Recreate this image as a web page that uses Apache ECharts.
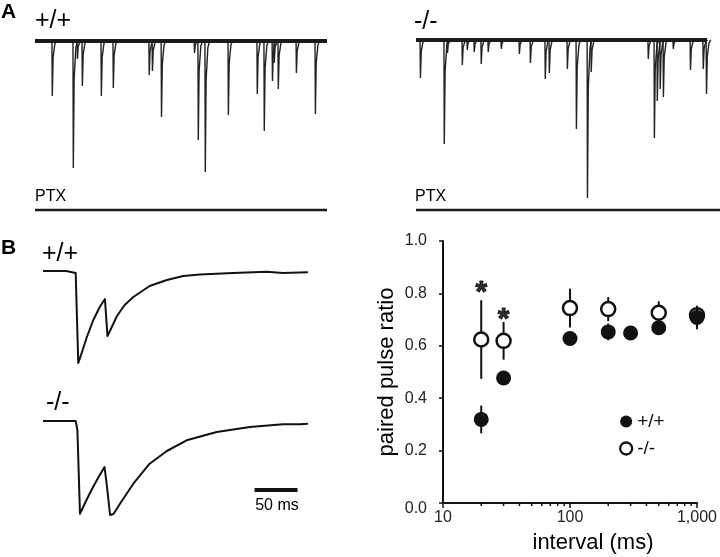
<!DOCTYPE html>
<html>
<head>
<meta charset="utf-8">
<script src="https://cdn.jsdelivr.net/npm/echarts@6/dist/echarts.min.js"></script>
<style>
html,body{margin:0;padding:0;background:#fff;}
#c{width:720px;height:557px;}
</style>
</head>
<body>
<div id="c"></div>
<script>
// ---------- DATA ----------
// Panel A: spontaneous IPSC events [time (s), amplitude (a.u., downward)]
const wtEvents = [[0.58,55],[1.30,127],[1.44,18],[1.61,45],[2.26,55],[2.67,47],[3.90,34],[4.01,30],[4.32,76],[5.45,12],[5.58,99],[5.82,131],[6.61,74],[7.60,53],[7.84,90],[8.12,40],[8.18,22],[8.32,48],[8.94,32],[9.59,73]];
const koEvents = [[0.14,38],[0.96,104],[1.07,13],[1.58,25],[1.75,10],[1.99,12],[2.23,24],[2.47,12],[2.92,9],[3.54,14],[3.92,23],[4.43,39],[4.57,33],[5.19,29],[5.50,89],[5.88,158],[6.01,32],[7.97,19],[8.18,98],[8.28,61],[8.38,49],[8.49,57],[8.83,9],[9.42,30],[9.86,29],[9.97,54]];
const recordDuration = 10;      // s
const ptxDurationWT = 10;       // s
const ptxDurationKO = 10.45;    // s

// Panel B left: paired-pulse traces [ms, a.u.]
const ppTimeWT = [0,27,29,38,40,41,45,51,58.5,66,72,75,80,86,95,105,124,144,163,182.5,221,260,279,308];
const ppValWT  = [0,0,-2,-2,-1,-92,-82,-66,-49,-36,-28,-65,-56,-45,-34,-26,-15,-9,-5,-3.6,-2,-0.7,-2,-1.3];
const ppTimeKO = [0,38,40,43,50,57,64,71.5,74,78,82,89.5,105,124,144,167,202,240.7,279,299,308];
const ppValKO  = [0,0,-9,-92.7,-80,-68,-57,-46,-62.7,-94,-93,-82.7,-62.7,-42.7,-30,-19.3,-11,-6,-3.3,-3.3,-2.7];
const scaleBarMs = 50;

// Panel B right: paired pulse ratio
const intervalsWT = [20,30,100,200,300,500,1000];
const pprWT = [0.319,0.477,0.628,0.653,0.649,0.669,0.708];
const semWT = [0.053,0.022,0.015,0.032,0.015,0.02,0.045];
const intervalsKO = [20,30,100,200,500,1000];
const pprKO = [0.624,0.619,0.744,0.740,0.726,0.717];
const semKO = [0.15,0.072,0.074,0.046,0.044,0.03];
const significant = [[20,0.832],[30,0.73]];
const minorTickValues = [20,30,40,50,60,70,80,90,200,300,400,500,600,700,800,900];

// ---------- BUILD ----------
const FONT = "'Liberation Sans', Arial, Helvetica, sans-serif";
const chart = echarts.init(document.getElementById('c'), null, {renderer:'canvas'});

function hiddenAxis(gridIndex, min, max){
  return {type:'value', gridIndex, min, max, show:false};
}
function eventRender(params, api){
  const t = api.value(0), a = api.value(1);
  const pts = [[t,0],[t+0.012,-a],[t+0.04,-a*0.3],[t+0.1,-a*0.05],[t+0.16,0]].map(p=>api.coord(p));
  return {type:'polyline', shape:{points:pts}, style:{stroke:'#222', lineWidth:1.4, fill:null}};
}
function errRender(params, api){
  const x = api.value(0);
  const p1 = api.coord([x, api.value(1)]), p2 = api.coord([x, api.value(2)]);
  return {type:'line', shape:{x1:p1[0],y1:p1[1],x2:p2[0],y2:p2[1]}, style:{stroke:'#111', lineWidth:2}};
}
function minorRender(params, api){
  const p = api.coord([api.value(0), 0]);
  return {type:'line', shape:{x1:p[0],y1:p[1],x2:p[0],y2:p[1]+3}, style:{stroke:'#111', lineWidth:1.5}};
}
const zip = (a,b)=>a.map((v,i)=>[v,b[i]]);

const grids = [
  {left:35, top:31, width:292, height:150},   // 0 A +/+
  {left:416, top:30, width:291, height:180},  // 1 A -/-
  {left:35, top:200, width:292, height:20},   // 2 PTX +/+
  {left:416, top:200, width:304, height:20},  // 3 PTX -/-
  {left:43, top:266, width:266.6, height:105},// 4 B +/+
  {left:43, top:416, width:266.6, height:105},// 5 B -/-
  {left:443, top:241, right:17, bottom:54}    // 6 PPR
];

const xAxes = [
  hiddenAxis(0, 0, recordDuration),
  hiddenAxis(1, 0, recordDuration),
  hiddenAxis(2, 0, ptxDurationWT),
  hiddenAxis(3, 0, ptxDurationKO),
  hiddenAxis(4, 0, 310),
  hiddenAxis(5, 0, 310),
  {type:'log', logBase:10, gridIndex:6, min:10, max:1000,
   axisLine:{show:true, lineStyle:{color:'#111', width:2}},
   axisTick:{show:true, length:5, lineStyle:{color:'#111', width:1.5}},
   splitLine:{show:false}, minorTick:{show:false},
   axisLabel:{color:'#222', fontSize:16, fontFamily:FONT, margin:7,
     formatter:v=> v>=1000 ? '1,000' : String(Math.round(v))}}
];
const yAxes = [
  hiddenAxis(0, -140, 10),
  hiddenAxis(1, -170, 10),
  hiddenAxis(2, -10, 10),
  hiddenAxis(3, -10, 10),
  hiddenAxis(4, -100, 5),
  hiddenAxis(5, -100, 5),
  {type:'value', gridIndex:6, min:0, max:1.0, interval:0.2,
   axisLine:{show:true, lineStyle:{color:'#111', width:2}},
   axisTick:{show:true, length:4, lineStyle:{color:'#111', width:1.5}},
   splitLine:{show:false},
   axisLabel:{color:'#222', fontSize:16, fontFamily:FONT, margin:16,
     formatter:v=> v===0 ? '{z|0.0}' : v.toFixed(1),
     rich:{z:{fontSize:16, fontFamily:FONT, color:'#222', padding:[12,0,0,0]}}}}
];

const series = [
  // Panel A
  {type:'line', xAxisIndex:0, yAxisIndex:0, data:[[0,0],[recordDuration,0]], symbol:'none',
   lineStyle:{color:'#1a1a1a', width:4}, silent:true},
  {type:'custom', xAxisIndex:0, yAxisIndex:0, data:wtEvents, renderItem:eventRender, clip:false, silent:true},
  {type:'line', xAxisIndex:1, yAxisIndex:1, data:[[0,0],[recordDuration,0]], symbol:'none',
   lineStyle:{color:'#1a1a1a', width:4}, silent:true},
  {type:'custom', xAxisIndex:1, yAxisIndex:1, data:koEvents, renderItem:eventRender, clip:false, silent:true},
  {type:'line', xAxisIndex:2, yAxisIndex:2, data:[[0,0],[ptxDurationWT,0]], symbol:'none',
   lineStyle:{color:'#1a1a1a', width:2.6}, silent:true},
  {type:'line', xAxisIndex:3, yAxisIndex:3, data:[[0,0],[ptxDurationKO,0]], symbol:'none',
   lineStyle:{color:'#1a1a1a', width:2.6}, silent:true},
  // Panel B traces
  {type:'line', xAxisIndex:4, yAxisIndex:4, data:zip(ppTimeWT, ppValWT), symbol:'none',
   smooth:false, lineStyle:{color:'#111', width:2, join:'round'}, silent:true},
  {type:'line', xAxisIndex:5, yAxisIndex:5, data:zip(ppTimeKO, ppValKO), symbol:'none',
   smooth:false, lineStyle:{color:'#111', width:2, join:'round'}, silent:true},
  {type:'line', xAxisIndex:5, yAxisIndex:5, data:[[246,-69],[246+scaleBarMs,-69]], symbol:'none',
   lineStyle:{color:'#111', width:4}, silent:true},
  // PPR
  {type:'custom', name:'-/-err', xAxisIndex:6, yAxisIndex:6,
   data:intervalsKO.map((x,i)=>[x, pprKO[i]-semKO[i], pprKO[i]+semKO[i]]),
   encode:{x:0, y:[1,2]}, renderItem:errRender, silent:true, z:2},
  {type:'scatter', name:'-/-', xAxisIndex:6, yAxisIndex:6, data:zip(intervalsKO, pprKO),
   symbol:'circle', symbolSize:14, itemStyle:{color:'#fff', borderColor:'#111', borderWidth:2.5, opacity:1}, z:3, silent:true},
  {type:'custom', name:'+/+err', xAxisIndex:6, yAxisIndex:6,
   data:intervalsWT.map((x,i)=>[x, pprWT[i]-semWT[i], pprWT[i]+semWT[i]]),
   encode:{x:0, y:[1,2]}, renderItem:errRender, silent:true, z:4},
  {type:'scatter', name:'+/+', xAxisIndex:6, yAxisIndex:6, data:zip(intervalsWT, pprWT),
   symbol:'circle', symbolSize:15, itemStyle:{color:'#111', opacity:1}, z:5, silent:true},
  {type:'scatter', name:'sig', xAxisIndex:6, yAxisIndex:6, data:significant, symbolSize:1,
   itemStyle:{color:'rgba(0,0,0,0)'}, silent:true, z:6,
   label:{show:true, position:'inside', formatter:'*', fontSize:30, fontWeight:'bold', fontFamily:FONT,
     color:'#000', textBorderWidth:1, textBorderColor:'#000', offset:[0,8]}},
  {type:'custom', xAxisIndex:6, yAxisIndex:6, data:minorTickValues.map(v=>[v,0]), renderItem:minorRender, clip:false, silent:true, z:6}
];

function txt(text, x, y, size, opts){
  opts = opts || {};
  return {type:'text', silent:true, z:100,
    style:{text, x, y, fill:'#000', font:(opts.bold?'bold ':'')+size+'px '+FONT,
      align:opts.align||'left', textAlign:opts.align||'left',
      verticalAlign:'middle', textVerticalAlign:'middle'}};
}

const option = {
  animation:false,
  backgroundColor:'#fff',
  grid:grids, xAxis:xAxes, yAxis:yAxes, series,
  legend:{show:true, orient:'vertical', left:619, top:412, itemWidth:12, itemHeight:12, itemGap:8, padding:0,
    selectedMode:false,
    textStyle:{fontSize:19, fontFamily:FONT, color:'#111'},
    data:[{name:'+/+', icon:'circle', itemStyle:{color:'#111'}},
          {name:'-/-', icon:'circle', itemStyle:{color:'#fff', borderColor:'#111', borderWidth:2.3}}]},
  graphic:[
    txt('A', 1, 12, 21, {bold:true}),
    txt('+/+', 35, 21, 25),
    txt('-/-', 414, 22, 25),
    txt('PTX', 35, 197, 16),
    txt('PTX', 415, 197, 16),
    txt('B', 1, 248, 21, {bold:true}),
    txt('+/+', 42, 254, 25),
    txt('-/-', 46, 403, 25),
    txt('50 ms', 277, 506, 16, {align:'center'}),
    txt('interval (ms)', 593, 543, 22, {align:'center'}),
    {type:'text', silent:true, z:100, x:387, y:372, rotation:Math.PI/2,
     style:{text:'paired pulse ratio', x:0, y:0, fill:'#000', font:'22px '+FONT,
       align:'center', textAlign:'center', verticalAlign:'middle', textVerticalAlign:'middle'}}
  ]
};
chart.setOption(option);
</script>
</body>
</html>
